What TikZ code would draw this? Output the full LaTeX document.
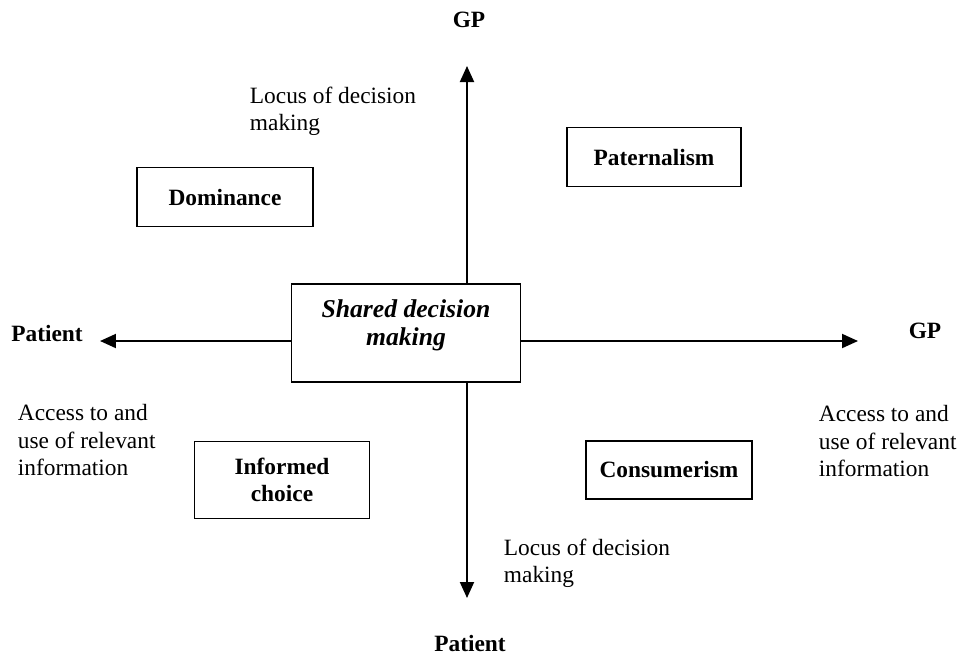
\documentclass[tikz,border=0pt]{standalone}
\usepackage{fontspec}
\setmainfont{Liberation Serif}
\usepackage{tikz}
\usetikzlibrary{arrows.meta}

\begin{document}
\begin{tikzpicture}[x=0.02cm, y=-0.02cm, line width=1.1pt,
        box/.style={draw, line width=1.1pt, inner sep=0pt, align=center, font=\bfseries},
        lbl/.style={inner sep=0pt, align=left},
        arr/.style={-{Triangle[length=3.2mm, width=2.8mm]}}]
        \fontsize{13.3}{15.5}\selectfont
        \useasboundingbox (0,0) rectangle (961,654);

        % Centre box and axis ends.
        \draw (406,333) node[box, minimum width=229*0.02cm, minimum height=98*0.02cm] (shared) {}
            (406,325) node[align=center, inner sep=0pt,
                font=\fontsize{14.6}{15.8}\selectfont\bfseries\itshape] (sharedtext) {Shared decision\\making};
        \coordinate (top) at (467,66);
        \coordinate (bottom) at (467,598);
        \coordinate (left) at (100,341);
        \coordinate (right) at (858,341);

        % Axes.
        \draw[arr] (shared.north -| top) -- (top);
        \draw[arr] (shared.south -| bottom) -- (bottom);
        \draw[arr] (shared.west |- left) -- (left);
        \draw[arr] (shared.east |- right) -- (right);

        % Axis labels.
        \draw (469,20) node[font=\bfseries] (gptop) {GP}
            (470,643) node[font=\bfseries] (patbottom) {Patient}
            (47,333) node[font=\bfseries] (patleft) {Patient}
            (925,331) node[font=\bfseries] (gpright) {GP};
        \draw (249,111) node[lbl, anchor=west] (locustop) {Locus of decision\\making}
            (503,563) node[lbl, anchor=west] (locusbottom) {Locus of decision\\making}
            (17,440) node[lbl, anchor=west] (accessleft) {Access to and\\use of relevant\\information}
            (818,441) node[lbl, anchor=west] (accessright) {Access to and\\use of relevant\\information};

        % Quadrant boxes.
        \draw (225,197) node[box, minimum width=176*0.02cm, minimum height=59*0.02cm] (dominance) {Dominance}
            (654,157) node[box, minimum width=174*0.02cm, minimum height=59*0.02cm] (paternalism) {Paternalism}
            (282,480) node[box, minimum width=175*0.02cm, minimum height=77*0.02cm] (informed) {Informed\\choice}
            (669,470) node[box, minimum width=166*0.02cm, minimum height=58*0.02cm] (consumerism) {Consumerism};
    \end{tikzpicture}
\end{document}
